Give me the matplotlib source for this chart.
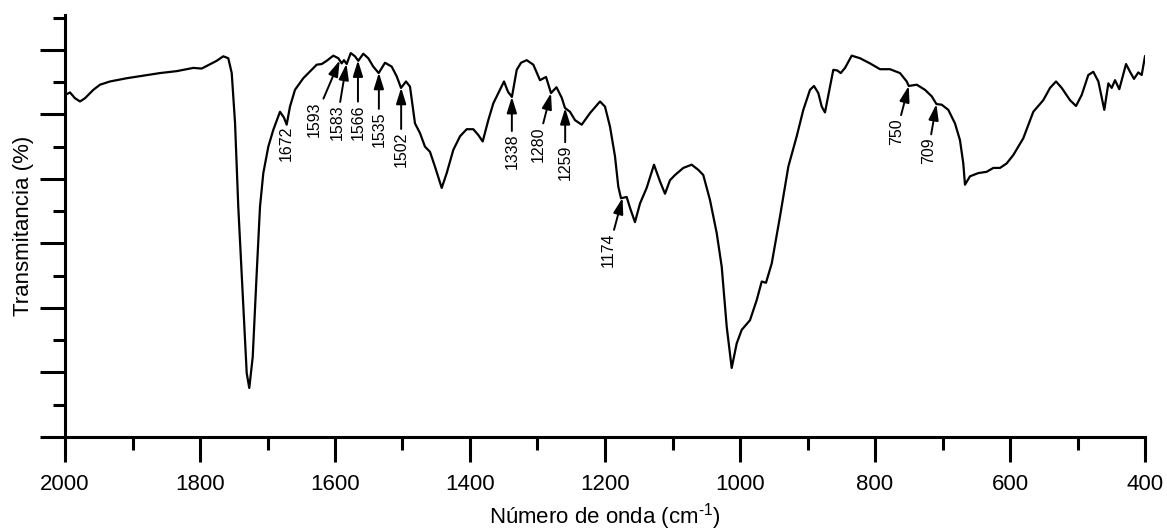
import numpy as np
import matplotlib
matplotlib.use('Agg')
import matplotlib.pyplot as plt
from matplotlib.ticker import MultipleLocator

plt.rcParams['font.family'] = ['Liberation Sans', 'DejaVu Sans']
plt.rcParams['mathtext.fontset'] = 'custom'
plt.rcParams['mathtext.rm'] = 'Liberation Sans'
plt.rcParams['mathtext.it'] = 'Liberation Sans:italic'

# Espectro FTIR (número de onda, transmitância relativa)
numero_onda = [2000, 1992.6, 1985.2, 1977.8, 1970.4, 1958.1, 1948.1, 1933.3, 1908.6, 1884.0,
               1859.3, 1834.5, 1809.9, 1797.5, 1790.1, 1775.3, 1765.5, 1758.1, 1753.0, 1748.1,
               1743.3, 1735.8, 1730.8, 1727.0, 1721.9, 1716.0, 1711.1, 1706.2, 1698.8, 1691.4,
               1681.5, 1675.6, 1671.6, 1666.7, 1659.3, 1647.0, 1627.1, 1619.7, 1612.3, 1602.5,
               1595.1, 1590.1, 1586.7, 1582.7, 1576.7, 1570.4, 1565.5, 1558.1, 1550.7, 1543.3,
               1535.3, 1525.9, 1516.0, 1508.6, 1502.2, 1494.8, 1488.9, 1481.5, 1474.1, 1466.7,
               1459.3, 1451.9, 1441.9, 1434.5, 1424.7, 1414.8, 1404.9, 1395.1, 1387.7, 1381.2,
               1372.9, 1365.5, 1358.1, 1349.6, 1343.7, 1337.9, 1330.8, 1324.4, 1316.0, 1306.2,
               1296.3, 1287.4, 1280.0, 1271.9, 1264.2, 1259.3, 1251.9, 1244.4, 1234.5, 1222.2,
               1207.4, 1200.0, 1192.6, 1185.2, 1180.3, 1176.3, 1167.9, 1162.9, 1155.6, 1148.1,
               1138.3, 1127.4, 1118.5, 1111.1, 1103.7, 1096.3, 1084.0, 1071.6, 1061.8, 1054.4,
               1044.4, 1034.5, 1027.1, 1019.7, 1012.3, 1004.9, 997.5, 985.2, 975.3, 967.8,
               961.5, 953.0, 940.7, 928.4, 916.0, 906.2, 896.3, 890.4, 884.0, 878.9,
               874.1, 866.7, 861.8, 855.8, 850.8, 844.4, 834.5, 822.2, 807.4, 792.6,
               777.8, 763.0, 753.0, 750.0, 738.2, 725.9, 716.0, 709.0, 701.2, 691.4,
               681.5, 674.1, 669.2, 666.7, 659.3, 647.0, 634.5, 624.7, 614.8, 604.9,
               595.1, 580.3, 565.5, 550.7, 540.7, 531.8, 523.4, 511.1, 502.2, 493.8,
               484.0, 476.6, 469.1, 460.3, 454.3, 449.3, 444.4, 438.1, 428.1, 422.2,
               416.3, 409.9, 404.9, 400.0]
transmitancia = [53.0, 53.4, 52.5, 52.0, 52.5, 53.8, 54.6, 55.1, 55.6, 56.0,
                 56.4, 56.7, 57.2, 57.1, 57.5, 58.3, 59.0, 58.7, 56.4, 48.7,
                 35.7, 20.2, 9.9, 7.6, 12.4, 25.4, 35.7, 40.9, 45.0, 47.6,
                 50.4, 49.5, 48.4, 51.2, 53.8, 55.6, 57.7, 57.8, 58.3, 59.1,
                 58.7, 57.9, 58.4, 57.8, 59.5, 59.0, 58.3, 59.4, 58.7, 57.4,
                 56.4, 58.0, 57.4, 55.9, 54.1, 55.1, 54.3, 48.6, 47.1, 45.0,
                 44.2, 41.9, 38.6, 40.9, 44.5, 46.6, 47.7, 47.7, 46.8, 45.8,
                 49.1, 51.7, 53.3, 55.1, 53.5, 52.7, 56.9, 58.0, 58.4, 57.7,
                 55.3, 55.8, 53.3, 54.2, 52.6, 51.0, 50.4, 49.1, 48.4, 50.2,
                 52.0, 51.2, 48.1, 43.5, 38.8, 37.0, 37.2, 35.5, 33.3, 36.2,
                 38.6, 42.2, 39.6, 37.7, 39.8, 40.6, 41.7, 42.2, 41.4, 40.6,
                 36.7, 31.6, 26.4, 17.1, 10.7, 14.5, 16.6, 18.1, 21.2, 24.1,
                 23.9, 26.9, 34.2, 41.9, 46.6, 50.7, 53.8, 54.4, 53.3, 51.2,
                 50.3, 54.3, 56.9, 56.8, 56.4, 57.2, 59.1, 58.7, 57.9, 57.0,
                 57.0, 56.4, 55.1, 54.4, 54.6, 53.8, 52.8, 51.6, 51.5, 50.7,
                 48.6, 46.0, 42.4, 39.1, 40.4, 40.9, 41.1, 41.7, 41.7, 42.4,
                 43.7, 46.3, 50.4, 52.2, 54.1, 55.1, 54.1, 52.2, 51.3, 53.0,
                 56.1, 56.6, 55.1, 50.7, 54.8, 54.1, 55.3, 53.9, 57.8, 56.6,
                 55.5, 56.5, 56.1, 59.0]

# Bandas marcadas com seta
bandas = ['1672', '1593', '1583', '1566', '1535', '1502', '1338', '1280', '1259', '1174', '750', '709']
# deslocamento do texto em relação à ponta da seta (pontos)
desloc_x = [0, -18, -7, 0, 0, 0, 0, -9.4, 0, -10, -8.6, -5.8]
desloc_y = [-1.5, -29.5, -29.5, -31.7, -28, -31.7, -26.6, -23.8, -26.6, -25, -23, -23.8]

x = np.array(numero_onda)
y = np.array(transmitancia)

fig = plt.figure(figsize=(11.67, 5.32), dpi=100)
ax = fig.add_axes([65 / 1167, 95 / 532, 1080 / 1167, 422 / 532])

ax.plot(x, y, color='black', lw=1.6)

for banda, dx, dy in zip(bandas, desloc_x, desloc_y):
    wn = float(banda)
    yb = np.interp(wn, x[::-1], y[::-1])
    if banda == '1672':
        ax.annotate(banda, xy=(wn, yb), xytext=(dx, dy), textcoords='offset points',
                    rotation=90, ha='center', va='top', fontsize=11.5)
    else:
        ax.annotate(banda, xy=(wn, yb), xytext=(dx, dy), textcoords='offset points',
                    rotation=90, ha='center', va='top', fontsize=11.5,
                    arrowprops=dict(arrowstyle='-|>,head_length=0.8,head_width=0.25',
                                    mutation_scale=12, color='black', lw=1.4,
                                    shrinkA=0, shrinkB=0))

ax.set_xlim(2000, 400)
ax.set_ylim(0, 65.4)
ax.xaxis.set_major_locator(MultipleLocator(200))
ax.xaxis.set_minor_locator(MultipleLocator(100))
ax.yaxis.set_major_locator(MultipleLocator(10))
ax.yaxis.set_minor_locator(MultipleLocator(5))

for lado in ['top', 'right']:
    ax.spines[lado].set_visible(False)
for lado in ['left', 'bottom']:
    ax.spines[lado].set_linewidth(2.2)

ax.tick_params(which='major', direction='out', length=18, width=2.2, labelsize=16, pad=9)
ax.tick_params(which='minor', direction='out', length=9, width=2.2)
ax.tick_params(axis='y', which='both', labelleft=False)

ax.set_xlabel('Número de onda (cm$^{\\text{-1}}$)', fontsize=16, labelpad=4)
ax.set_ylabel('Transmitancia (%)', fontsize=16, labelpad=4)

plt.savefig('out.png', dpi=100)
